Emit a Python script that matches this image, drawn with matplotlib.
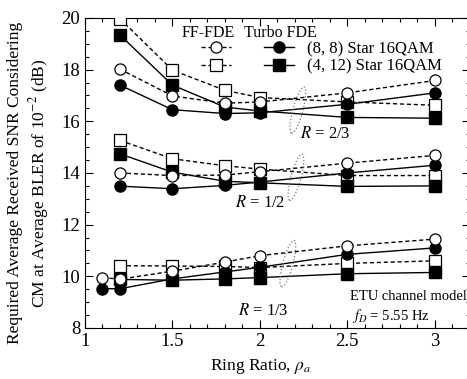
import numpy as np
import matplotlib
matplotlib.use('Agg')
import matplotlib.pyplot as plt
from matplotlib.patches import Ellipse
from matplotlib.lines import Line2D
from matplotlib.ticker import MultipleLocator
import matplotlib.transforms as mtransforms

plt.rcParams['font.family'] = 'Liberation Serif'
plt.rcParams['mathtext.fontset'] = 'stix'

# ring ratios
x_main = [1.2, 1.5, 1.8, 2.0, 2.5, 3.0]
x_low = [1.1, 1.2, 1.5, 1.8, 2.0, 2.5, 3.0]

# R = 2/3
ff88_r23 = [18.02, 16.98, 16.70, 16.75, 17.10, 17.58]
ff412_r23 = [19.97, 17.98, 17.20, 16.92, 16.75, 16.62]
tb88_r23 = [17.40, 16.45, 16.30, 16.33, 16.66, 17.10]
tb412_r23 = [19.34, 17.40, 16.55, 16.40, 16.15, 16.12]

# R = 1/2
ff88_r12 = [14.00, 13.90, 13.92, 14.05, 14.38, 14.68]
ff412_r12 = [15.26, 14.55, 14.28, 14.15, 13.90, 13.90]
tb88_r12 = [13.49, 13.39, 13.52, 13.65, 14.00, 14.30]
tb412_r12 = [14.74, 14.03, 13.68, 13.62, 13.48, 13.50]

# R = 1/3 (circles start at 1.1)
ff88_r13 = [9.95, 9.89, 10.20, 10.55, 10.80, 11.18, 11.44]
ff412_r13 = [10.41, 10.40, 10.38, 10.34, 10.50, 10.60]
tb88_r13 = [9.52, 9.52, 9.90, 10.17, 10.35, 10.85, 11.10]
tb412_r13 = [9.88, 9.85, 9.90, 9.95, 10.10, 10.15]

fig = plt.figure(figsize=(4.67, 3.79), dpi=100)
ax = fig.add_axes([0.182, 0.1346, 0.824, 0.818])

ms = 8
dash = (0, (3, 2))
open_sq = dict(marker='s', mfc='white', mec='black', color='black', ls=dash, lw=1.0, ms=ms, mew=0.9)
open_ci = dict(marker='o', mfc='white', mec='black', color='black', ls=dash, lw=1.0, ms=ms, mew=0.9)
fill_sq = dict(marker='s', mfc='black', mec='black', color='black', ls='-', lw=1.0, ms=ms)
fill_ci = dict(marker='o', mfc='black', mec='black', color='black', ls='-', lw=1.0, ms=ms)

for ys in [ff412_r23, ff412_r12, ff412_r13]:
    ax.plot(x_main, ys, zorder=3, **open_sq)
for ys in [tb412_r23, tb412_r12, tb412_r13]:
    ax.plot(x_main, ys, zorder=4, **fill_sq)
for ys in [tb88_r23, tb88_r12]:
    ax.plot(x_main, ys, zorder=5, **fill_ci)
ax.plot(x_low, tb88_r13, zorder=5, **fill_ci)
for ys in [ff88_r23, ff88_r12]:
    ax.plot(x_main, ys, zorder=6, **open_ci)
ax.plot(x_low, ff88_r13, zorder=6, **open_ci)

# dotted ellipses marking the code rate groups
for cx, cy in [(2.217, 16.43), (2.206, 13.83), (2.16, 10.49)]:
    tr = fig.dpi_scale_trans + mtransforms.ScaledTranslation(cx, cy, ax.transData)
    ax.add_patch(Ellipse((0, 0), 0.10, 0.48, angle=-15, transform=tr, fill=False,
                         ec='#777777', ls=':', lw=0.9, zorder=7))

fs = 12
ax.text(2.229, 15.5, '$R$ = 2/3', fontsize=fs, va='center')
ax.text(1.857, 12.82, '$R$ = 1/2', fontsize=fs, va='center')
ax.text(1.874, 8.66, '$R$ = 1/3', fontsize=fs, va='center')
ax.text(2.515, 9.2, 'ETU channel model', fontsize=10.5, va='center')
ax.text(2.525, 8.45, '$f_D$ = 5.55 Hz', fontsize=10.5, va='center')

# legend
ax.text(0.32, 0.952, 'FF-FDE', transform=ax.transAxes, fontsize=11.5, ha='center', va='center')
ax.text(0.508, 0.952, 'Turbo FDE', transform=ax.transAxes, fontsize=11.5, ha='center', va='center')
h = [Line2D([], [], **open_ci), Line2D([], [], **open_sq),
     Line2D([], [], **fill_ci), Line2D([], [], **fill_sq)]
labels = ['', '', '(8, 8) Star 16QAM', '(4, 12) Star 16QAM']
ax.legend(h, labels, ncol=2, loc='upper left', bbox_to_anchor=(0.301, 0.926),
          frameon=False, borderpad=0, borderaxespad=0, fontsize=fs,
          handlelength=1.8, handletextpad=0.8, columnspacing=1.2, labelspacing=0.1)

ax.set_xlim(1, 3.2)
ax.set_ylim(8, 20)
ax.set_xticks([1, 1.5, 2, 2.5, 3])
ax.set_xticklabels(['1', '1.5', '2', '2.5', '3'])
ax.set_yticks([8, 10, 12, 14, 16, 18, 20])
ax.xaxis.set_minor_locator(MultipleLocator(0.1))
ax.yaxis.set_minor_locator(MultipleLocator(0.5))
ax.tick_params(which='both', direction='in', top=True, right=True, labelsize=13.5, width=0.8)
ax.tick_params(which='major', length=6)
ax.tick_params(which='minor', length=3)
for s in ax.spines.values():
    s.set_linewidth(0.8)

fig.text(0.062, 0.517, 'Required Average Received SNR Considering\nCM at Average BLER of 10$^{-2}$ (dB)',
         rotation=90, ha='center', va='center', fontsize=12.5, multialignment='center')
fig.text(0.557, 0.034, 'Ring Ratio, $\\rho_a$', ha='center', va='center', fontsize=12.5)

fig.savefig('out.png', dpi=100)
